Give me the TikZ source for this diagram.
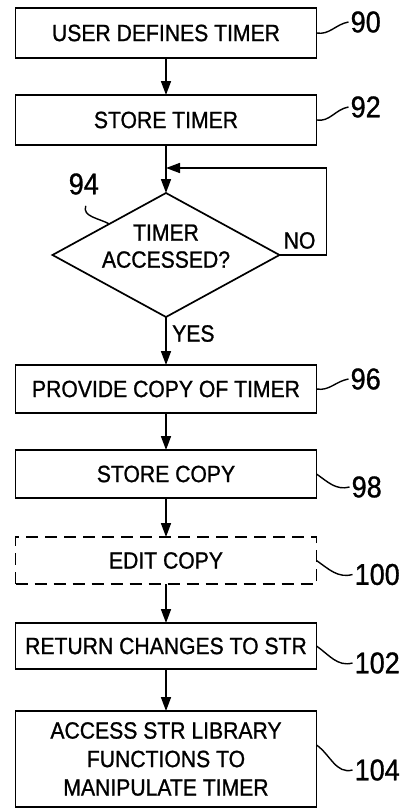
\documentclass[tikz,border=0pt]{standalone}
\usepackage{fontspec}
\setmainfont{Liberation Sans}[FakeStretch=0.9,FakeBold=1]
\usetikzlibrary{positioning,shapes.geometric,arrows.meta}

\begin{document}
\begin{tikzpicture}[x=1pt,y=1pt,node distance=37pt,
  box/.style={draw,line width=1.7pt,outer sep=0pt,minimum width=301pt,inner sep=2pt,align=center,font=\fontsize{23.5}{28.5}\selectfont},
  decision/.style={draw,diamond,line width=1.7pt,outer sep=0pt,minimum width=227pt,minimum height=124pt,aspect=1.83,inner sep=0pt,font=\fontsize{23.5}{27}\selectfont},
  num/.style={inner sep=0pt,font=\fontsize{30}{30}\selectfont},
  tag/.style={inner sep=0pt,font=\fontsize{23.5}{23.5}\selectfont},
  arr/.style={line width=1.6pt,-{Triangle[length=14pt,width=10pt]}},
  lead/.style={line width=1.4pt}]
\useasboundingbox (0,0) rectangle (403,-808);

\node[box,minimum height=50pt] (define) at (166,-33) {USER DEFINES TIMER};
\node[box,minimum height=50pt,below=of define] (store) {STORE TIMER};
\coordinate[below=23pt of store] (loop);
\node[decision,below=48pt of store] (access) {\smash{\begin{tabular}{@{}c@{}}TIMER\\ACCESSED?\end{tabular}}};
\node[box,minimum height=48pt,below=48pt of access] (provide) {PROVIDE COPY OF TIMER};
\node[box,minimum height=48pt,below=of provide] (copy) {STORE COPY};
\node[box,minimum height=47pt,below=39pt of copy,dash pattern=on 12pt off 7pt] (edit) {EDIT COPY};
\node[box,minimum height=46pt,below=39pt of edit] (return) {RETURN CHANGES TO STR};
\node[box,minimum height=96pt,below=42pt of return] (library) {ACCESS STR LIBRARY\\FUNCTIONS TO\\MANIPULATE TIMER};

\draw[arr] (define) -- (store);
\draw[arr] (store) -- (access);
\draw[arr] (access.east) -- ++(47,0) |- (loop);
\draw[arr] (access) -- (provide);
\draw[arr] (provide) -- (copy);
\draw[arr] (copy) -- (edit);
\draw[arr] (edit) -- (return);
\draw[arr] (return) -- (library);

\node[tag,anchor=south west] (no) at ([xshift=4pt,yshift=6pt]access.east) {NO};
\node[tag,anchor=north west] (yes) at ([xshift=6pt,yshift=-8pt]access.south) {YES};

\node[num,right=34pt of define,yshift=11pt] (n90) {90};
\node[num,right=34pt of store,yshift=13pt] (n92) {92};
\node[num,left=67pt of access.north,yshift=9pt] (n94) {94};
\node[num,right=34pt of provide,yshift=10pt] (n96) {96};
\node[num,right=35pt of copy,yshift=-13pt] (n98) {98};
\node[num,right=38pt of edit,yshift=-14pt] (n100) {100};
\node[num,right=38pt of return,yshift=-17pt] (n102) {102};
\node[num,right=38pt of library,yshift=-11pt] (n104) {104};

\draw[lead] (define.east) to[out=-10,in=190] ([xshift=-2pt]n90.west);
\draw[lead] (store.east) to[out=-10,in=190] ([xshift=-2pt]n92.west);
\draw[lead] ([xshift=2pt,yshift=-11pt]n94.south) to[out=-110,in=150] (access.north west);
\draw[lead] (provide.east) to[out=-10,in=190] ([xshift=-2pt]n96.west);
\draw[lead] (copy.east) to[out=-35,in=195] ([xshift=-2pt]n98.west);
\draw[lead] (edit.east) to[out=-35,in=195] ([xshift=-2pt]n100.west);
\draw[lead] (return.east) to[out=-35,in=195] ([xshift=-2pt]n102.west);
\draw[lead] ([yshift=14pt]library.east) to[out=-35,in=195] ([xshift=-2pt]n104.west);
\end{tikzpicture}
\end{document}
